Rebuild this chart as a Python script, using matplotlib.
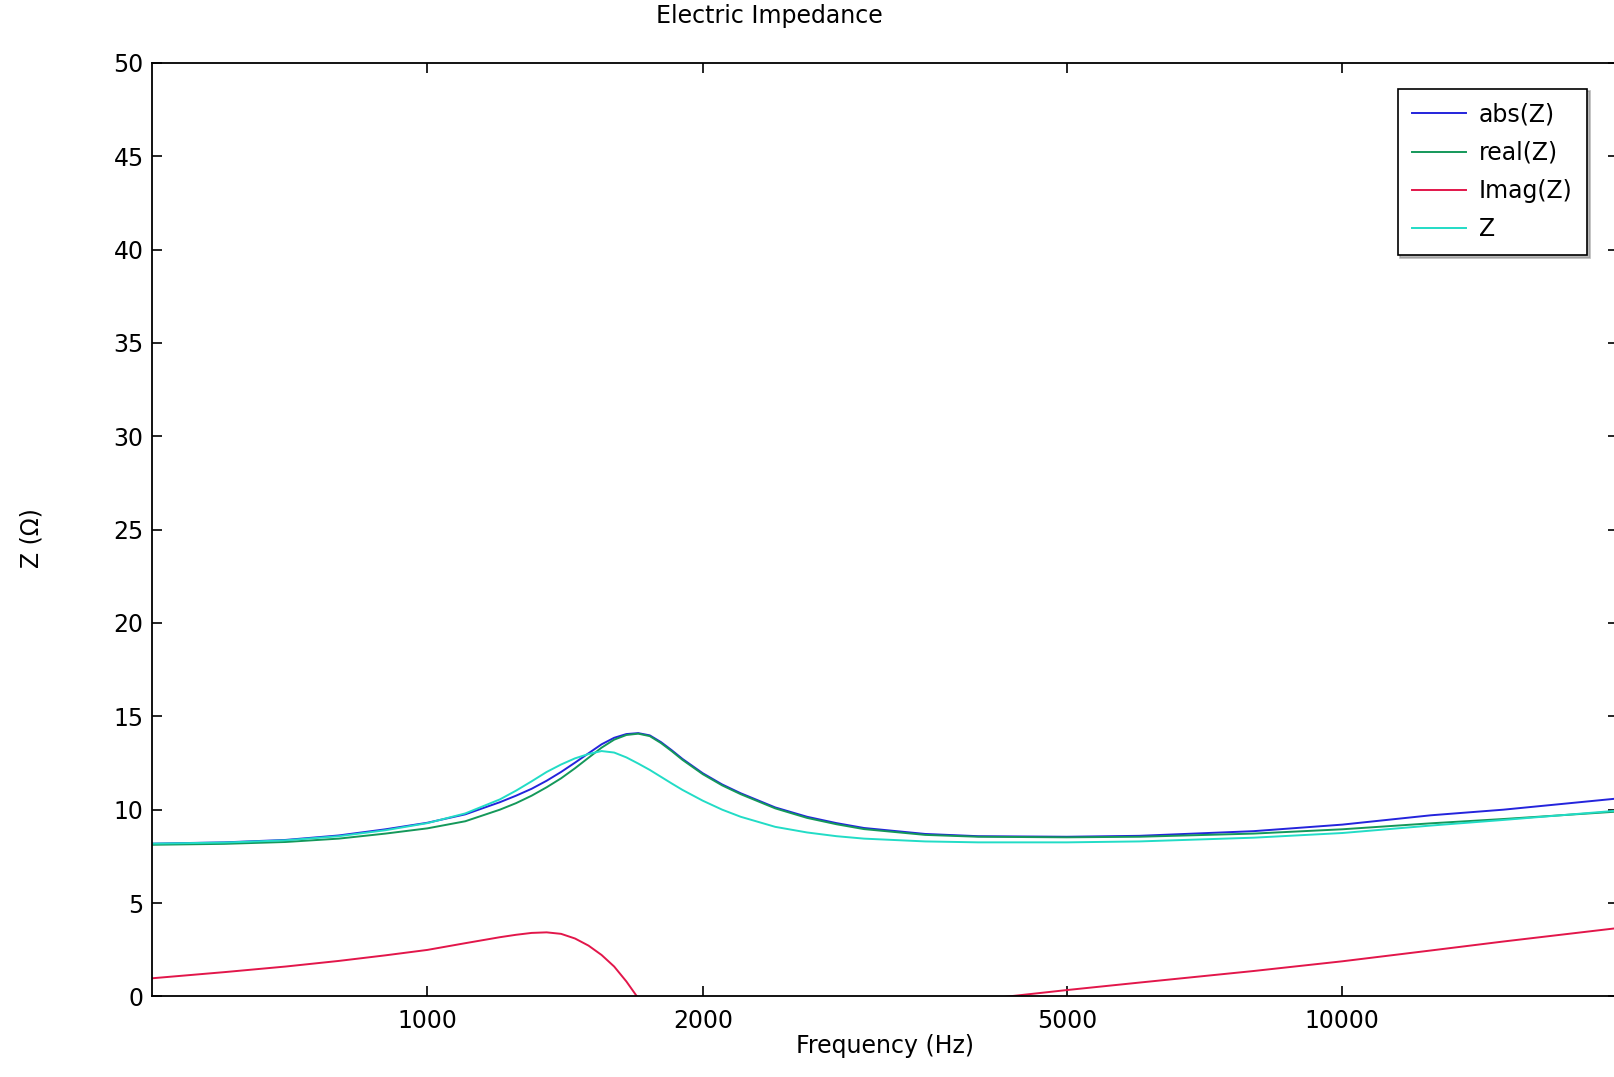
import matplotlib
matplotlib.use("Agg")
import matplotlib.pyplot as plt
from matplotlib.ticker import FixedLocator, NullLocator, FixedFormatter

# frequency grid (Hz) and the four impedance traces (Ohm)
FREQ = [500, 600, 700, 800, 900, 1000, 1100, 1200, 1250, 1300, 1350, 1400, 1450, 1500,
        1550, 1600, 1650, 1700, 1750, 1800, 1850, 1900, 2000, 2100, 2200, 2400, 2600,
        2800, 3000, 3500, 4000, 5000, 6000, 8000, 10000, 12500, 15000, 20000]
ABS_Z = [8.18, 8.25, 8.38, 8.62, 8.95, 9.30, 9.75, 10.40, 10.75, 11.12, 11.55, 12.02, 12.52, 13.02,
         13.50, 13.85, 14.05, 14.10, 13.98, 13.62, 13.18, 12.72, 11.95, 11.35, 10.88, 10.12, 9.62,
         9.28, 9.02, 8.70, 8.58, 8.55, 8.60, 8.85, 9.20, 9.70, 10.00, 10.60]
REAL_Z = [8.12, 8.17, 8.27, 8.45, 8.72, 9.00, 9.38, 10.00, 10.35, 10.75, 11.20, 11.68, 12.22, 12.78,
          13.32, 13.75, 14.00, 14.07, 13.94, 13.57, 13.13, 12.67, 11.90, 11.30, 10.83, 10.07, 9.56,
          9.22, 8.96, 8.65, 8.55, 8.52, 8.55, 8.72, 8.95, 9.27, 9.50, 9.90]
IMAG_Z = [0.97, 1.30, 1.60, 1.90, 2.20, 2.49, 2.85, 3.17, 3.30, 3.40, 3.43, 3.35, 3.10, 2.72,
          2.22, 1.60, 0.80, -0.10, -0.60, -1.00, -1.20, -1.40, -1.50, -1.52, -1.50, -1.40, -1.25,
          -1.12, -1.00, -0.60, -0.18, 0.34, 0.74, 1.36, 1.88, 2.46, 2.94, 3.66]
Z_MAG = [8.18, 8.24, 8.36, 8.58, 8.90, 9.28, 9.80, 10.55, 11.02, 11.52, 12.02, 12.42, 12.75, 12.98,
         13.14, 13.06, 12.80, 12.47, 12.13, 11.76, 11.40, 11.06, 10.48, 10.00, 9.62, 9.08, 8.78,
         8.58, 8.45, 8.30, 8.25, 8.25, 8.30, 8.50, 8.75, 9.15, 9.45, 9.95]

SERIES = ["abs(Z)", "real(Z)", "Imag(Z)", "Z"]
X_TICKS = [1000, 2000, 5000, 10000]
Y_TICKS = list(range(0, 51, 5))

COL = {"abs(Z)": "#2424dc", "real(Z)": "#14985a", "Imag(Z)": "#e2164a", "Z": "#22dcc6"}
FS = 17

W, H = 1614, 1077
fig = plt.figure(figsize=(W / 100, H / 100), dpi=100)
# axes spans 500..20000 Hz; the right spine sits just past the image edge
ax = fig.add_axes([152 / W, 1 - 996.4 / H, (1617.7 - 152) / W, (996.4 - 62.8) / H])

data = {"abs(Z)": ABS_Z, "real(Z)": REAL_Z, "Imag(Z)": IMAG_Z, "Z": Z_MAG}
handles = []
for name in SERIES:
    ln, = ax.plot(FREQ, data[name], color=COL[name], lw=1.4, label=name)
    handles.append(ln)

ax.set_xscale("log")
ax.set_xlim(500, 20000)
ax.set_ylim(0, 50)
ax.xaxis.set_major_locator(FixedLocator(X_TICKS))
ax.xaxis.set_major_formatter(FixedFormatter([str(t) for t in X_TICKS]))
ax.xaxis.set_minor_locator(NullLocator())
ax.yaxis.set_major_locator(FixedLocator(Y_TICKS))

ax.tick_params(axis="both", direction="in", length=7, width=1.2, labelsize=FS,
               colors="black", top=True, right=True)
ax.tick_params(axis="x", pad=9)
ax.tick_params(axis="y", pad=6)
for s in ax.spines.values():
    s.set_linewidth(1.3)
    s.set_color("black")

ax.set_xlabel("Frequency (Hz)", fontsize=FS, labelpad=1)
ax.set_ylabel("Z (Ω)", fontsize=FS, labelpad=0)
ax.yaxis.set_label_coords(44 / W, 0.5, transform=fig.transFigure)
fig.text(769 / W, 1 - 15.5 / H, "Electric Impedance", fontsize=FS, ha="center", va="center")

leg = ax.legend(handles=handles, loc="upper right",
                bbox_to_anchor=(1587 / W, 1 - 88.5 / H), bbox_transform=fig.transFigure,
                borderaxespad=0, fontsize=FS, frameon=True, fancybox=False,
                edgecolor="black", framealpha=1, handlelength=2.3, handletextpad=0.55,
                labelspacing=0.6, borderpad=0.6,
                shadow={"color": "0.55", "alpha": 0.6})
leg.get_frame().set_linewidth(1.2)

fig.savefig("out.png", dpi=100, facecolor="white")
